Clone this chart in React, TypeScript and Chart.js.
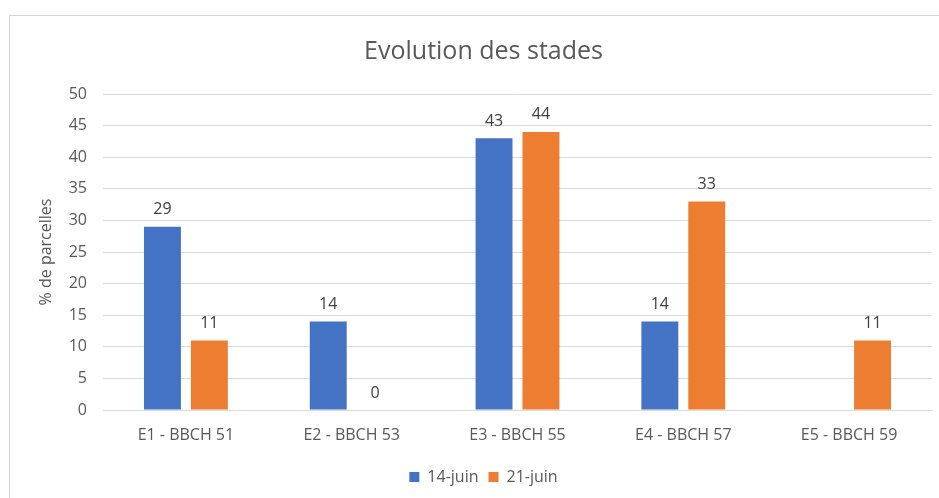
import React, { useEffect, useRef } from "react";
import { Chart, registerables } from "chart.js";

Chart.register(...registerables);

const categories = ["E1 - BBCH 51", "E2 - BBCH 53", "E3 - BBCH 55", "E4 - BBCH 57", "E5 - BBCH 59"];
const series1Label = "14-juin";
const series1: (number | null)[] = [29, 14, 43, 14, null];
const series2Label = "21-juin";
const series2: (number | null)[] = [11, 0, 44, 33, 11];
const yMin = 0;
const yMax = 50;
const yStep = 5;
const chartTitle = "Evolution des stades";
const yTitle = "% de parcelles";

const FONT = "'Open Sans', 'Noto Sans', sans-serif";
const BLUE = "#4472C4";
const ORANGE = "#ED7D31";
const TEXT = "#595959";
const GRID = "#d9d9d9";

const valueLabels = {
  id: "valueLabels",
  afterDatasetsDraw(chart: any) {
    const ctx = chart.ctx;
    ctx.save();
    ctx.font = `16px ${FONT}`;
    ctx.fillStyle = "#404040";
    ctx.textAlign = "center";
    ctx.textBaseline = "middle";
    chart.data.datasets.forEach((ds: any, i: number) => {
      const meta = chart.getDatasetMeta(i);
      meta.data.forEach((el: any, j: number) => {
        const v = ds.data[j];
        if (v === null || v === undefined) return;
        ctx.fillText(String(v), el.x, el.y - 17);
      });
    });
    ctx.restore();
  },
};

export default function App() {
  const ref = useRef<HTMLCanvasElement | null>(null);

  useEffect(() => {
    if (!ref.current) return;
    const chart = new Chart(ref.current, {
      type: "bar",
      data: {
        labels: categories,
        datasets: [
          {
            label: series1Label,
            data: series1,
            backgroundColor: BLUE,
            categoryPercentage: 0.566,
            barPercentage: 0.787,
          },
          {
            label: series2Label,
            data: series2,
            backgroundColor: ORANGE,
            categoryPercentage: 0.566,
            barPercentage: 0.787,
          },
        ],
      },
      options: {
        animation: false,
        responsive: false,
        maintainAspectRatio: false,
        layout: { padding: { left: 35, right: 7, top: 15, bottom: 0 } },
        plugins: {
          title: {
            display: true,
            text: chartTitle,
            color: TEXT,
            font: { family: FONT, size: 25, weight: "normal" },
            padding: { top: 22, bottom: 27 },
          },
          legend: {
            position: "bottom",
            labels: {
              color: TEXT,
              font: { family: FONT, size: 16 },
              boxWidth: 10,
              boxHeight: 10,
              padding: 10,
            },
          },
          tooltip: { enabled: false },
        },
        scales: {
          x: {
            grid: { display: false, drawTicks: false },
            border: { display: true, color: GRID, width: 1 },
            ticks: { color: TEXT, font: { family: FONT, size: 16 }, padding: 16 },
            afterFit: (s: any) => {
              s.height = 49;
            },
          },
          y: {
            min: yMin,
            max: yMax,
            ticks: {
              stepSize: yStep,
              color: TEXT,
              font: { family: FONT, size: 16 },
              padding: 16,
            },
            grid: { color: GRID, lineWidth: 1, drawTicks: false },
            border: { display: false },
            title: {
              display: true,
              text: yTitle,
              color: TEXT,
              font: { family: FONT, size: 16 },
              padding: { top: 2, bottom: 0 },
            },
            afterFit: (s: any) => {
              s.width = 68;
            },
          },
        },
      },
      plugins: [valueLabels],
    } as any);
    return () => chart.destroy();
  }, []);

  return (
    <div
      style={{
        position: "absolute",
        left: 0,
        top: 0,
        width: 939,
        height: 498,
        overflow: "hidden",
        background: "#ffffff",
      }}
    >
      <div
        style={{
          position: "absolute",
          left: 9,
          top: 15,
          width: 940,
          height: 500,
          border: "1px solid #d4d4d4",
          boxSizing: "border-box",
        }}
      />
      <canvas
        ref={ref}
        width={939}
        height={495}
        style={{ position: "absolute", left: 0, top: 0, width: 939, height: 495 }}
      />
    </div>
  );
}
